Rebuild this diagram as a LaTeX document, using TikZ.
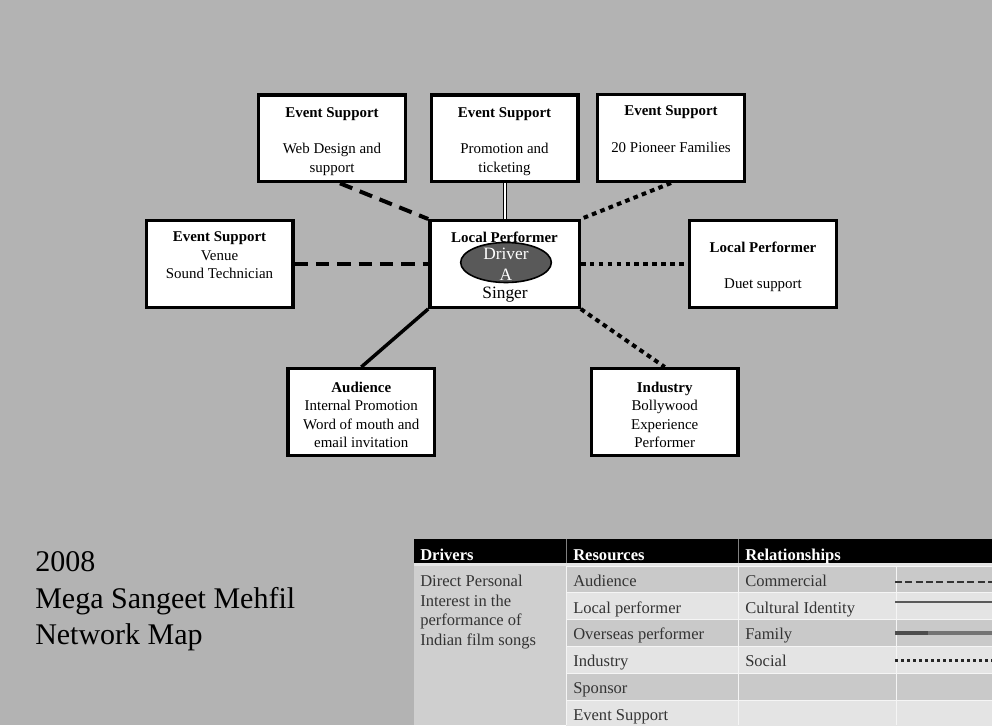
\documentclass[tikz,border=0pt]{standalone}
\usepackage{fontspec}
\setmainfont{Liberation Serif}
\usepackage{ifthen}
\usetikzlibrary{shapes.geometric}
\definecolor{bggray}{RGB}{179,179,179}
\definecolor{rowdark}{RGB}{201,201,201}
\definecolor{rowlight}{RGB}{228,228,228}
\definecolor{drvcell}{RGB}{207,207,207}
\definecolor{celltext}{RGB}{51,51,51}
\definecolor{drvfill}{RGB}{89,89,89}
\newcommand\boxtop{\rule{0pt}{12pt}}

\begin{document}
\begin{tikzpicture}[x=0.75pt,y=-0.75pt,
  box/.style={draw=black,line width=2.5pt,fill=white,minimum width=110pt,minimum height=65pt,inner sep=0pt,align=center,font=\fontsize{11.2}{13.7}\selectfont},
  commercial/.style={line width=3pt,dash pattern=on 10pt off 6pt},
  social/.style={line width=3pt,dash pattern=on 3.5pt off 3.2pt},
  family/.style={double,double distance=1.5pt,line width=0.75pt},
  cultural/.style={line width=2.6pt},
  cell/.style={anchor=base west,inner sep=0pt,text=celltext,font=\fontsize{12.4}{15}\selectfont},
  head/.style={anchor=base west,inner sep=0pt,text=white,font=\fontsize{12.4}{15}\selectfont\bfseries},
  title/.style={anchor=base west,inner sep=0pt,font=\fontsize{22.5}{27}\selectfont}]
\useasboundingbox (0,0) rectangle (992,725);
\fill[bggray] (0,0) rectangle (992,725);

\node[box] (web) at (332,138.3) {\boxtop\textbf{Event Support}\\ \strut\\ Web Design and\\ support};
\node[box] (promo) at (504.5,138.3) {\boxtop\textbf{Event Support}\\ \strut\\ Promotion and\\ ticketing};
\node[box] (fam) at (671,138) {\boxtop\textbf{Event Support}\\ \strut\\ 20 Pioneer Families\\ \strut};
\node[box] (venue) at (219.5,264) {\boxtop\textbf{Event Support}\\ Venue\\ Sound Technician\\ \strut};
\node[box,minimum width=112pt] (local) at (504.5,264) {};
\node[box] (duet) at (763,264) {\boxtop\textbf{Local Performer}\\ \strut\\ Duet support};
\node[box] (aud) at (361.3,412) {\boxtop\textbf{Audience}\\ Internal Promotion\\ Word of mouth and\\ email invitation};
\node[box] (ind) at (664.7,412) {\boxtop\textbf{Industry}\\ Bollywood\\ Experience\\ Performer};

\node[ellipse,draw=black,line width=1.2pt,fill=drvfill,minimum width=68pt,minimum height=30pt,inner sep=0pt] (drvA) at (506,262.5) {};
\node[align=center,inner sep=0pt,text=white,font=\fontsize{13}{15.75}\selectfont] (drvtxt) at (506,264.5) {Driver\\A};
\node[anchor=base,inner sep=0pt,font=\fontsize{11.2}{13.7}\selectfont\bfseries] (lphead) at (504.5,242.5) {Local Performer};
\node[anchor=base,inner sep=0pt,font=\fontsize{13}{15.75}\selectfont] (singer) at (505,298.4) {Singer};

\draw[commercial] (web.-80) -- (local.north west);
\draw[family] (promo.south) -- (local.north);
\draw[social] (fam.south) -- (local.north east);
\draw[commercial] (venue.east) -- (local.west);
\draw[social] (local.east) -- (duet.west);
\draw[cultural] (aud.north) -- (local.south west);
\draw[social] (local.south east) -- (ind.north);

\node[title] (yr) at (35,571.7) {2008};
\node[title] (event) at (35,608.3) {Mega Sangeet Mehfil};
\node[title] (map) at (35,644.5) {Network Map};

\fill[black] (414,539.3) rectangle (992,563.3);
\fill[rowlight] (414,563.3) rectangle (992,566);
\fill[drvcell] (414,566) rectangle (566,725);
\foreach \res [count=\i] in {Audience,Local performer,Overseas performer,Industry,Sponsor,Event Support}
{
	\pgfmathsetmacro\ytop{566+26.8*(\i-1)}
	\ifthenelse{\isodd{\i}}{\def\rowcol{rowdark}}{\def\rowcol{rowlight}}
	\fill[\rowcol] (566,\ytop) rectangle (992,\ytop+26.8);
	\draw[white!92!gray,line width=0.75pt] (566,\ytop) -- (992,\ytop);
	\node[cell] (res\i) at (573,\ytop+20.2) {\res};
}
\foreach \rel [count=\i] in {Commercial,Cultural Identity,Family,Social}
	\node[cell] (rel\i) at (745,{586.2+26.8*(\i-1)}) {\rel};
\foreach \ln [count=\i] in {Direct Personal,Interest in the,performance of,Indian film songs}
	\node[cell] (dtext\i) at (420,{586.2+19.8*(\i-1)}) {\ln};
\foreach \xx in {566,738,896}
	\draw[white!92!gray,line width=0.75pt] (\xx,566) -- (\xx,725);
\draw[gray,line width=0.75pt] (566,539.3) -- (566,563.3);
\draw[gray,line width=0.75pt] (738,539.3) -- (738,563.3);
\node[head] (hdrv) at (420,560.5) {Drivers};
\node[head] (hres) at (573,560.5) {Resources};
\node[head] (hrel) at (745,560.5) {Relationships};

\draw[black!80,line width=1.5pt,dash pattern=on 5.25pt off 2.5pt] (895,581.5) -- (992,581.5);
\draw[black!65,line width=1.5pt] (895,601.7) -- (992,601.7);
\draw[black!55,line width=3pt] (895,633.3) -- (992,633.3);
\draw[black!70,line width=3pt] (895,633.3) -- (928,633.3);
\draw[black!85,line width=2pt,dash pattern=on 2pt off 2.5pt] (895,660.5) -- (992,660.5);
\end{tikzpicture}
\end{document}
